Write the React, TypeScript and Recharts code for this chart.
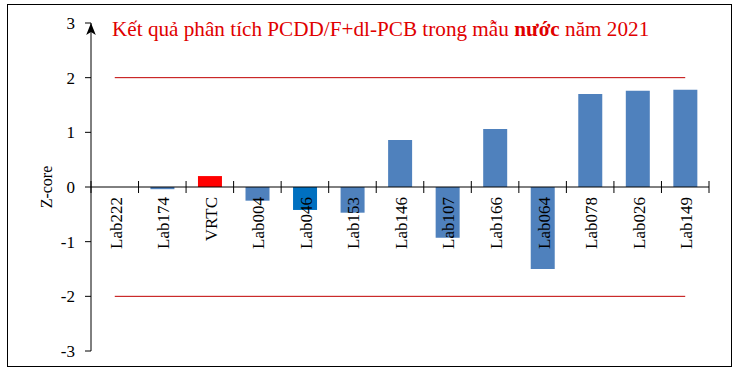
import { BarChart, Bar, Cell, XAxis, YAxis, ReferenceLine } from 'recharts';

const labs = ['Lab222', 'Lab174', 'VRTC', 'Lab004', 'Lab046', 'Lab153', 'Lab146', 'Lab107', 'Lab166', 'Lab064', 'Lab078', 'Lab026', 'Lab149'];
const zScores = [0, -0.04, 0.2, -0.25, -0.42, -0.47, 0.86, -0.93, 1.06, -1.5, 1.7, 1.76, 1.78];
const barColors = ['#4F81BD', '#4F81BD', '#FF0000', '#4F81BD', '#0070C0', '#4F81BD', '#4F81BD', '#4F81BD', '#4F81BD', '#4F81BD', '#4F81BD', '#4F81BD', '#4F81BD'];
const yTicks = [-3, -2, -1, 0, 1, 2, 3];
const limit = 2;

const data = labs.map((name, i) => ({ name, z: zScores[i] }));

const CW = 723;
const CH = 361;
const MARGIN = { top: 18, right: 22, bottom: 14, left: 0 };
const X_AXIS_H = 1;
const Y_AXIS_W = 83;
const Y_MIN = -3;
const Y_MAX = 3;
const FONT = "'Times New Roman', 'Liberation Serif', serif";

const plotW = CW - MARGIN.left - MARGIN.right - Y_AXIS_W;
const plotH = CH - MARGIN.top - MARGIN.bottom - X_AXIS_H;
const zeroY = MARGIN.top + (plotH * Y_MAX) / (Y_MAX - Y_MIN);
const band = plotW / labs.length;

// category labels + tick marks sit on the zero line, not at the bottom
function renderZeroTick(props: any) {
  const { x, payload, index } = props;
  const left = x - band / 2;
  const isLast = index === labs.length - 1;
  return (
    <g key={`zt-${index}`}>
      <line x1={left} x2={left} y1={zeroY - 6} y2={zeroY + 6} stroke="#000" />
      {isLast && <line x1={left + band} x2={left + band} y1={zeroY - 6} y2={zeroY + 6} stroke="#000" />}
      <text
        x={x + 1}
        y={zeroY + 10}
        transform={`rotate(-90, ${x + 1}, ${zeroY + 10})`}
        textAnchor="end"
        dy="0.35em"
        fontFamily={FONT}
        fontSize={17}
        fill="#000"
      >
        {payload.value}
      </text>
    </g>
  );
}

function renderYTick(props: any) {
  const { x, y, payload, index } = props;
  return (
    <text key={`yt-${index}`} x={x} y={y} dy="0.35em" textAnchor="end" fontFamily={FONT} fontSize={17} fill="#000">
      {payload.value}
    </text>
  );
}

export default function App() {
  return (
    <div
      style={{
        position: 'absolute',
        left: 7,
        top: 4,
        width: CW,
        height: CH,
        border: '1px solid #000',
        background: '#fff',
        fontFamily: FONT,
      }}
    >
      <BarChart width={CW} height={CH} data={data} margin={MARGIN} barCategoryGap="25%">
        <defs>
          <marker id="arrowUp" markerUnits="userSpaceOnUse" markerWidth={10} markerHeight={12} refX={4} refY={0} orient="0" viewBox="0 0 8 10">
            <path d="M4,0 L8,10 L4,7.5 L0,10 Z" fill="#000" />
          </marker>
        </defs>
        <YAxis
          domain={[Y_MIN, Y_MAX]}
          ticks={yTicks}
          width={Y_AXIS_W}
          tickSize={6}
          tickMargin={10}
          tick={renderYTick}
          tickLine={{ stroke: '#000' }}
          axisLine={{ stroke: '#000', markerStart: 'url(#arrowUp)' }}
          label={{ value: 'Z-core', angle: -90, position: 'center', dx: -3, fill: '#000', fontSize: 16, fontFamily: FONT }}
        />
        <ReferenceLine
          segment={[{ x: labs[0], y: limit }, { x: labs[labs.length - 1], y: limit }]}
          stroke="#C00000"
          strokeWidth={1}
        />
        <ReferenceLine
          segment={[{ x: labs[0], y: -limit }, { x: labs[labs.length - 1], y: -limit }]}
          stroke="#C00000"
          strokeWidth={1}
        />
        <Bar dataKey="z" isAnimationActive={false}>
          {data.map((d, i) => (
            <Cell key={d.name} fill={barColors[i]} />
          ))}
        </Bar>
        <ReferenceLine y={0} stroke="#000" strokeWidth={1} />
        <XAxis
          dataKey="name"
          height={X_AXIS_H}
          axisLine={false}
          tickLine={false}
          interval={0}
          tick={renderZeroTick}
        />
        <text x={104} y={31} fill="#E00000" fontFamily={FONT} fontSize={21.2}>
          Kết quả phân  tích PCDD/F+dl-PCB trong mẫu <tspan fontWeight="bold">nước</tspan> năm 2021
        </text>
      </BarChart>
    </div>
  );
}
